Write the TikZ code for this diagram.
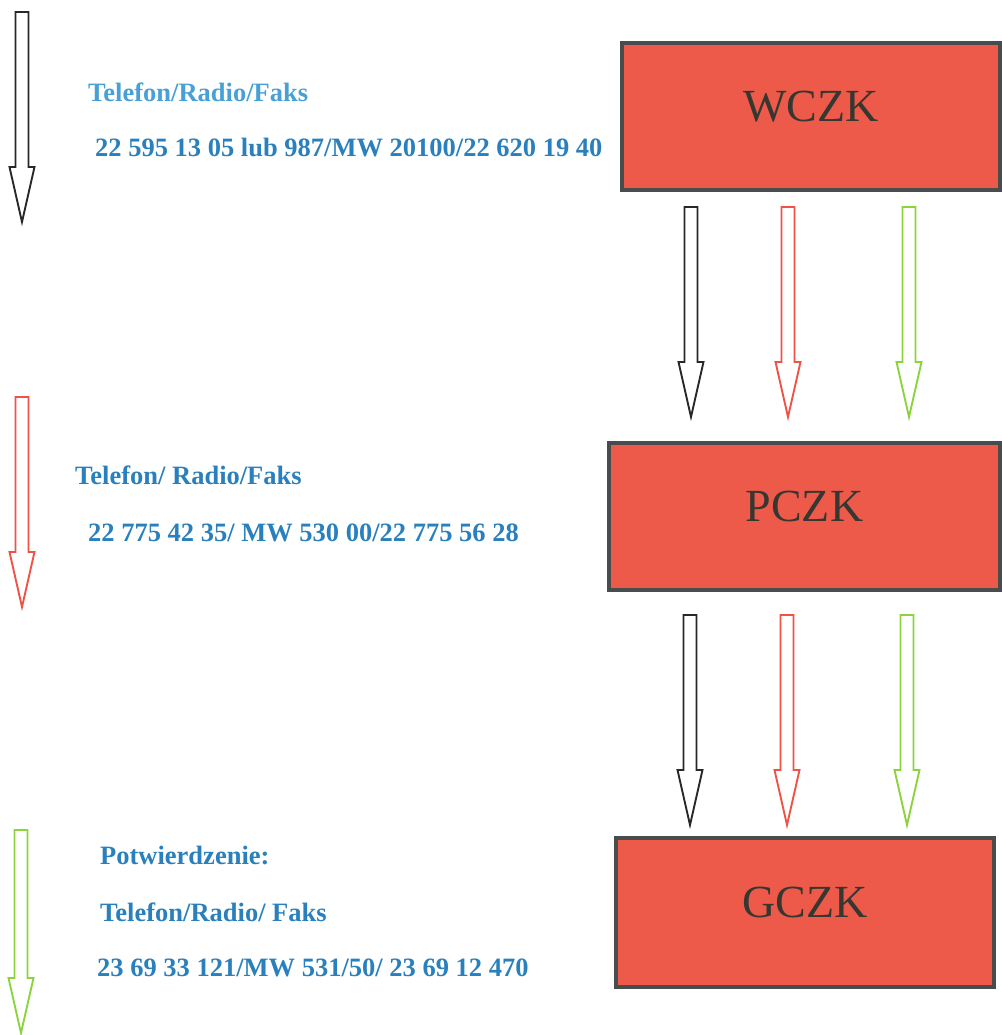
\documentclass[tikz,border=0pt]{standalone}
\usepackage{fontspec}
\setmainfont{Liberation Serif}
\usetikzlibrary{positioning}
\definecolor{boxR}{RGB}{238,90,74}
\definecolor{edgeG}{RGB}{72,76,76}
\definecolor{labK}{RGB}{55,55,50}
\definecolor{infoB}{RGB}{42,128,188}
\definecolor{infoL}{RGB}{72,160,214}
\definecolor{arrK}{RGB}{40,40,40}
\definecolor{arrR}{RGB}{240,82,70}
\definecolor{arrG}{RGB}{140,212,60}
% hollow block arrow: colour, x, top, tip
\newcommand{\hollowarrow}[4]{%
  \draw[#1, line width=1.9pt, line join=miter]
    (#2-6.5,#3) -- (#2+6.5,#3) -- (#2+6.5,#4-55) -- (#2+12.5,#4-55)
    -- (#2,#4) -- (#2-12.5,#4-55) -- (#2-6.5,#4-55) -- cycle;}

\begin{document}
\begin{tikzpicture}[x=1pt, y=-1pt,
  cz/.style={rectangle, draw=edgeG, fill=boxR, line width=4pt, text=labK,
             font=\fontsize{46}{50}\selectfont, inner sep=0pt, text depth=20pt},
  info/.style={anchor=west, inner sep=0pt, text=infoB,
               font=\fontsize{26.5}{30}\selectfont\bfseries}]
  \useasboundingbox (0,0) rectangle (1001,1035);

  % left legend arrows
  \hollowarrow{arrK}{22}{12}{222}
  \hollowarrow{arrR}{22}{397}{607}
  \hollowarrow{arrG}{21}{830}{1033}

  % legend texts
  \node[info, text=infoL] (tel1) at (88,92) {Telefon/Radio/Faks};
  \node[info] (num1) at (95,148) {22 595 13 05 lub 987/MW 20100/22 620 19 40};
  \node[info] (tel2) at (75,475) {Telefon/ Radio/Faks};
  \node[info] (num2) at (88,533) {22 775 42 35/ MW 530 00/22 775 56 28};
  \node[info] (conf) at (100,855) {Potwierdzenie:};
  \node[info] (tel3) at (100,912) {Telefon/Radio/ Faks};
  \node[info] (num3) at (97,968) {23 69 33 121/MW 531/50/ 23 69 12 470};

  % command centres
  \node[cz, minimum width=378pt, minimum height=147pt] (wczk) at (811,116.5) {WCZK};
  \node[cz, minimum width=391pt, minimum height=147pt] (pczk) at (804.5,516.5) {PCZK};
  \node[cz, minimum width=378pt, minimum height=149pt] (gczk) at (805,912.5) {GCZK};

  % arrows WCZK -> PCZK
  \hollowarrow{arrK}{691}{207}{417}
  \hollowarrow{arrR}{788}{207}{417}
  \hollowarrow{arrG}{909}{207}{417}

  % arrows PCZK -> GCZK
  \hollowarrow{arrK}{690}{615}{825}
  \hollowarrow{arrR}{787}{615}{825}
  \hollowarrow{arrG}{907}{615}{825}
\end{tikzpicture}
\end{document}
